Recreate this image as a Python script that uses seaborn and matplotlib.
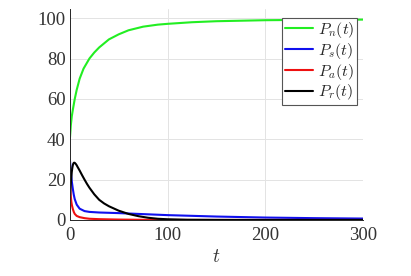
import matplotlib
matplotlib.use("Agg")
import matplotlib.pyplot as plt
import seaborn as sns
import pandas as pd

# Data
t_n = [0, 1, 2, 3, 5, 7, 10, 14, 20, 25, 30, 40, 50, 60, 75, 90, 100, 125, 150, 200, 250, 300]
P_n = [40, 47, 51.5, 54.5, 60, 64.5, 70, 75, 80, 83, 85.5, 89.5, 92, 94, 95.8, 96.8, 97.2, 98, 98.5, 99, 99.2, 99.3]

t_s = [0, 1, 2, 3, 4, 5, 7, 10, 15, 20, 30, 50, 70, 100, 150, 200, 250, 300]
P_s = [30, 24, 19, 15.5, 12.5, 10.3, 7.6, 5.6, 4.4, 4.0, 3.7, 3.4, 3.0, 2.4, 1.7, 1.2, 0.9, 0.7]

t_a = [0, 0.5, 1, 1.5, 2, 3, 4, 5, 7, 10, 15, 20, 30, 50, 80, 100, 300]
P_a = [20, 15, 11.5, 9, 7.5, 5.5, 4, 3, 2, 1.4, 0.9, 0.6, 0.4, 0.2, 0.05, 0.02, 0]

t_r = [0, 0.5, 1, 1.5, 2, 2.5, 3, 3.5, 4, 4.5, 5, 6, 7, 8, 10, 12.5, 15, 17.5, 20, 25, 30, 35, 40, 50, 60, 70, 80, 90, 100, 120, 150, 200, 300]
P_r = [10, 14.5, 18.5, 21.5, 24, 25.8, 27.1, 27.9, 28.3, 28.4, 28.3, 27.8, 27.1, 26.2, 24.5, 22.2, 20.0, 17.9, 16.0, 12.7, 10.0, 8.2, 6.8, 4.6, 3.0, 1.9, 1.1, 0.6, 0.35, 0.1, 0.03, 0, 0]

labels = [r"$P_n(t)$", r"$P_s(t)$", r"$P_a(t)$", r"$P_r(t)$"]
colors = ["#22ee22", "#1010ee", "#ee1010", "#000000"]

sns.set_theme(style="white")
plt.rcParams["font.family"] = ["Liberation Serif", "DejaVu Serif"]
plt.rcParams["mathtext.fontset"] = "cm"

fig = plt.figure(figsize=(4.11, 2.76), dpi=100)
ax = fig.add_axes([0.170, 0.203, 0.713, 0.764])

series = [(t_n, P_n), (t_s, P_s), (t_a, P_a), (t_r, P_r)]
for (tt, pp), lab, col in zip(series, labels, colors):
    df = pd.DataFrame({"t": tt, "P": pp})
    sns.lineplot(data=df, x="t", y="P", ax=ax, color=col, linewidth=1.5, label=lab)

ax.set_xlim(0, 300)
ax.set_ylim(0, 104.5)
ax.set_xticks([0, 100, 200, 300])
ax.set_yticks([0, 20, 40, 60, 80, 100])
ax.grid(True, color="#e3e3e3", linewidth=0.7)
ax.tick_params(axis="both", length=0, labelsize=13.5, colors="#333333")
ax.tick_params(axis="x", pad=5)
ax.tick_params(axis="y", pad=3)
for s in ["top", "right"]:
    ax.spines[s].set_visible(False)
for s in ["left", "bottom"]:
    ax.spines[s].set_color("#262626")
    ax.spines[s].set_linewidth(0.7)
ax.set_xlabel(r"$t$", fontsize=14, labelpad=4, color="#333333")
ax.set_ylabel("")

leg = ax.legend(loc="upper right", bbox_to_anchor=(0.98, 0.96), fontsize=11.5,
                frameon=True, fancybox=False, framealpha=1, edgecolor="#555555",
                handlelength=1.8, handletextpad=0.3, borderpad=0.15, labelspacing=0.05,
                borderaxespad=0)
leg.get_frame().set_linewidth(0.8)

fig.savefig("out.png", dpi=100)
